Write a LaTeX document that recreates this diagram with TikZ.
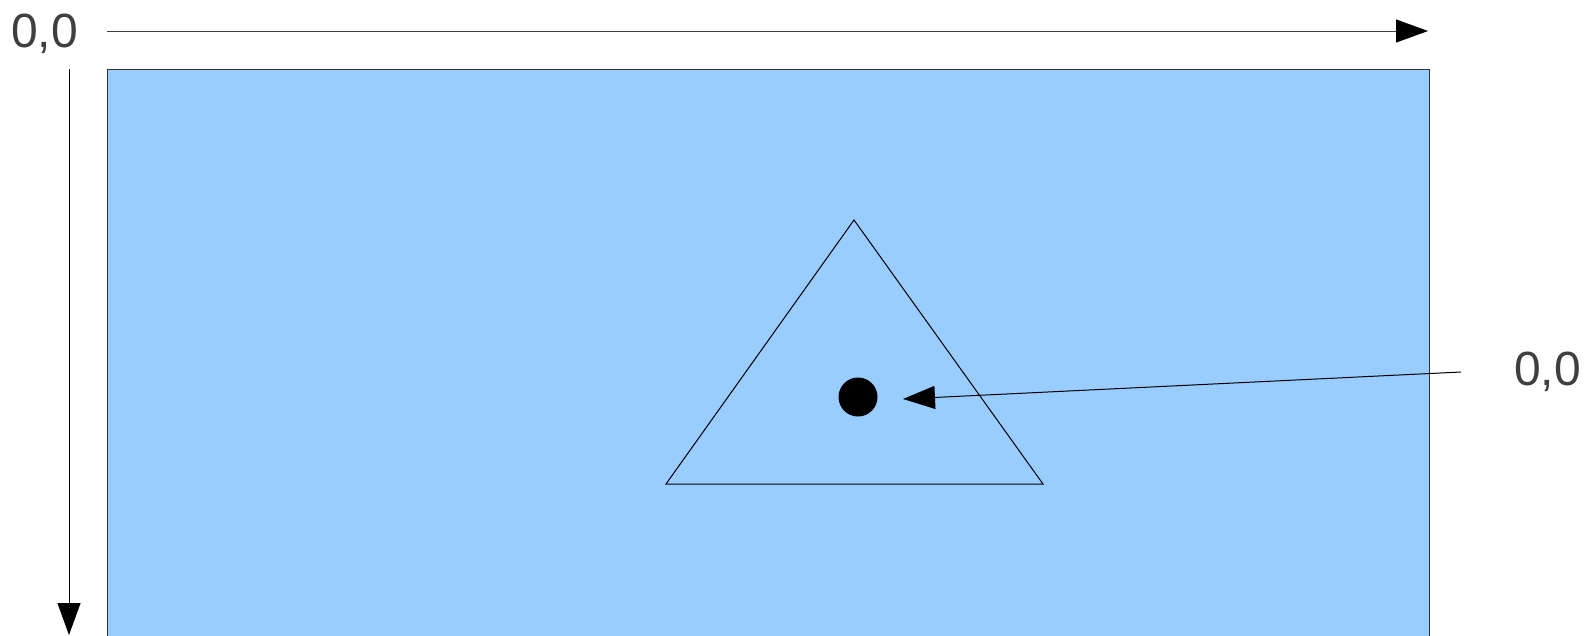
\documentclass[tikz,border=0pt]{standalone}
\usepackage{fontspec}
\setmainfont{Liberation Sans}
\usetikzlibrary{arrows.meta}
\definecolor{SkyB}{HTML}{99CCFF}
\definecolor{TextA}{HTML}{3F3F3F}
\tikzset{
  lbl/.style={font=\fontsize{48}{52}\selectfont, text=TextA, inner sep=0pt, anchor=base west},
  axis/.style={-{Triangle[length=32pt, width=23pt, color=black]}, line width=1pt},
  canvas/.style={fill=SkyB, draw=black!80, line width=1pt},
  dot/.style={circle, fill=black, minimum size=39pt, inner sep=0pt}
}
\begin{document}
\begin{tikzpicture}[x=1pt, y=-1pt]
  \useasboundingbox (0,0) rectangle (1587,635);
  \clip (0,0) rectangle (1587,635);
  % screen area
  \draw[canvas] (107,69) rectangle (1429,645);
  % shape and its centre
  \draw[line width=1pt] (854,220) -- (1043,484) -- (666,484) -- cycle;
  \node[dot] (centre) at (858,397) {};

  \node[lbl] (origin) at (11,47) {0,0};
  \node[lbl] (local) at (1514,385) {0,0};

  \coordinate (xstart) at (107,31);
  \coordinate (xend) at (1428,31);
  \coordinate (ystart) at (69,69);
  \coordinate (yend) at (69,635);
  \coordinate (pstart) at (1461,372);
  \coordinate (pend) at (903,399);

  \draw[axis, draw=black!75] (xstart) -- (xend);
  \draw[axis] (ystart) -- (yend);
  \draw[axis] (pstart) -- (pend);
\end{tikzpicture}
\end{document}
